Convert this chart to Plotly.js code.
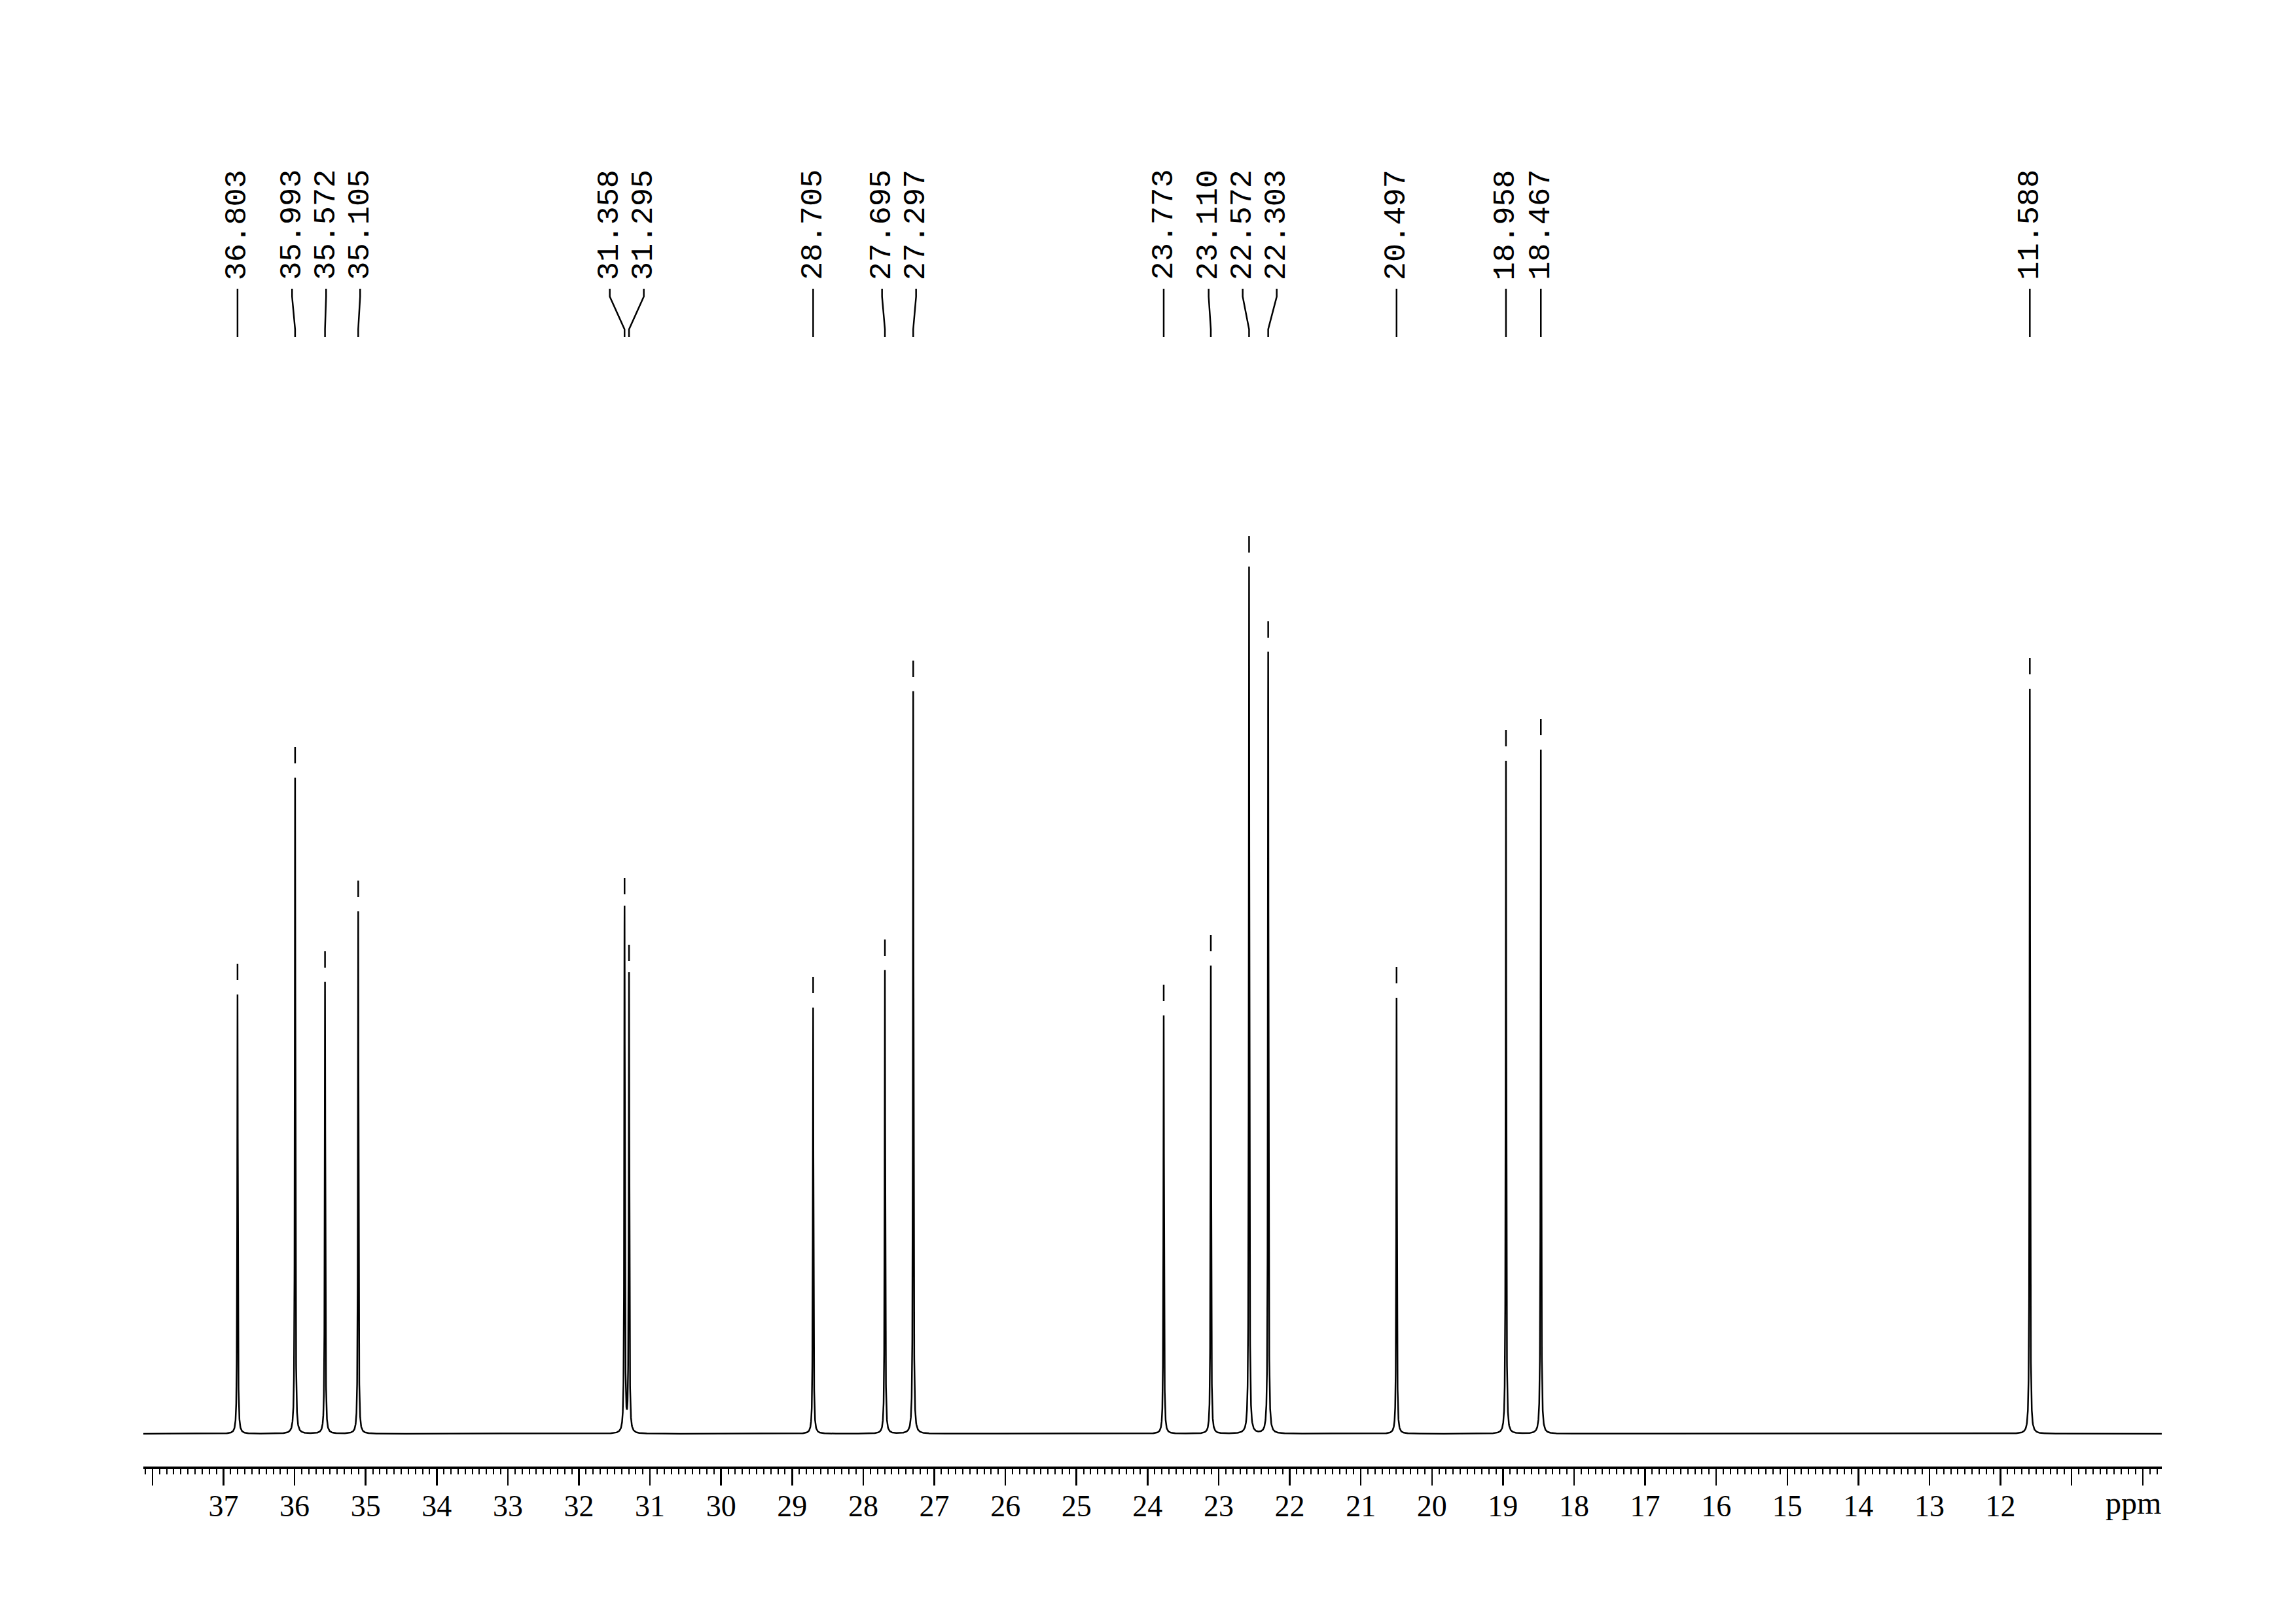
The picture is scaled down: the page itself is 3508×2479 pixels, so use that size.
<!DOCTYPE html>
<html>
<head>
<meta charset="utf-8">
<script src="https://cdn.plot.ly/plotly-3.0.1.min.js"></script>
<style>html,body{margin:0;padding:0;background:#fff;}</style>
</head>
<body>
<div id="chart" style="width:3508px;height:2479px;"></div>
<script>
// ---- data (13C spectrum, ppm) ----
const peakPositions = [36.803, 35.993, 35.572, 35.105, 31.358, 31.295, 28.705, 27.695, 27.297,
                       23.773, 23.110, 22.572, 22.303, 20.497, 18.958, 18.467, 11.588];
const peakHeights   = [671, 1002, 690, 798, 802, 700, 651, 708, 1134,
                       639, 715, 1324, 1194, 666, 1028, 1045, 1138];
const tickValues = [38, 37, 36, 35, 34, 33, 32, 31, 30, 29, 28, 27, 26, 25, 24, 23, 22, 21, 20, 19, 18, 17, 16, 15, 14, 13, 12, 11, 10];
const tickLabels = ['', '37', '36', '35', '34', '33', '32', '31', '30', '29', '28', '27', '26', '25', '24', '23', '22', '21', '20', '19', '18', '17', '16', '15', '14', '13', '12', '', ''];
const axisUnit = 'ppm';

// ---- layout geometry ----
const W = 3508, H = 2479;
const mL = 219, mR = 205, mT = 0, mB = 239;
const xRange = [38.128, 9.731];
const yRange = [-50, 2190];
const plotW = W - mL - mR;
const pxPerPpm = plotW / (xRange[0] - xRange[1]);
const yTopPx = 2190;                   // y data value that sits at the page top
const pxToY = px => yTopPx - px;       // 1 y unit == 1 pixel

// ---- spectrum line built from the peak list (Lorentzian lines) ----
const gamma = 0.005;
let xs = [];
for (let v = xRange[0]; v >= xRange[1]; v -= 0.004) xs.push(v);
peakPositions.forEach(p => { for (let k = -80; k <= 80; k++) xs.push(p + k * 0.0005); });
xs.sort((a, b) => b - a);
const ys = xs.map(x => peakPositions.reduce((s, p, i) =>
  s + peakHeights[i] * gamma * gamma / ((x - p) * (x - p) + gamma * gamma), 0));

// ---- small marks above each peak ----
const markX = [], markY = [];
peakPositions.forEach((p, i) => {
  markX.push(p, p, null);
  markY.push(peakHeights[i] + 22, peakHeights[i] + 47, null);
});

// ---- label spreading (min spacing in ppm) ----
function spreadLabels(pos, minSep) {
  let clusters = pos.map((p, i) => ({ idx: [i], center: p }));
  let changed = true;
  while (changed) {
    changed = false;
    for (let c = 0; c < clusters.length - 1; c++) {
      const a = clusters[c], b = clusters[c + 1];
      const aLow = a.center - (a.idx.length - 1) / 2 * minSep;
      const bHigh = b.center + (b.idx.length - 1) / 2 * minSep;
      if (aLow - bHigh < minSep - 1e-9) {
        const idx = a.idx.concat(b.idx);
        const center = idx.reduce((s, i) => s + pos[i], 0) / idx.length;
        clusters.splice(c, 2, { idx, center });
        changed = true;
        break;
      }
    }
  }
  const out = [];
  clusters.forEach(cl => cl.idx.forEach((i, k) => {
    out[i] = cl.center + ((cl.idx.length - 1) / 2 - k) * minSep;
  }));
  return out;
}
const labelX = spreadLabels(peakPositions, 52 / pxPerPpm);

const connX = [], connY = [];
peakPositions.forEach((p, i) => {
  connX.push(labelX[i], labelX[i], p, p, null);
  connY.push(pxToY(441), pxToY(453), pxToY(503), pxToY(515), null);
});

const annotations = peakPositions.map((p, i) => ({
  x: labelX[i], xref: 'x',
  y: pxToY(429), yref: 'y',
  xanchor: 'center', yanchor: 'bottom',
  text: p.toFixed(3), textangle: -90, showarrow: false,
  font: { family: 'Liberation Mono, DejaVu Sans Mono, monospace', size: 47, color: '#000' },
  borderpad: 0
}));
annotations.push({
  x: 1, xref: 'paper', xanchor: 'right',
  y: -(2268 - (H - mB)) / (H - mB - mT), yref: 'paper', yanchor: 'top',
  text: axisUnit, showarrow: false,
  font: { family: 'Liberation Serif, serif', size: 48, color: '#000' },
  borderpad: 0
});

const traces = [
  { x: xs, y: ys, type: 'scatter', mode: 'lines', line: { color: '#000', width: 2.5 }, hoverinfo: 'skip', cliponaxis: false },
  { x: markX, y: markY, type: 'scatter', mode: 'lines', line: { color: '#000', width: 2.5 }, hoverinfo: 'skip', cliponaxis: false },
  { x: connX, y: connY, type: 'scatter', mode: 'lines', line: { color: '#000', width: 2.5 }, hoverinfo: 'skip', cliponaxis: false }
];

const layout = {
  width: W, height: H,
  margin: { l: mL, r: mR, t: mT, b: mB, pad: 0 },
  paper_bgcolor: '#fff', plot_bgcolor: '#fff',
  showlegend: false,
  xaxis: {
    range: xRange, autorange: false,
    showgrid: false, zeroline: false,
    showline: true, linecolor: '#000', linewidth: 3.5,
    ticks: 'outside', ticklen: 25, tickwidth: 2.5, tickcolor: '#000',
    tickmode: 'array', tickvals: tickValues, ticktext: tickLabels,
    ticklabelstandoff: -8,
    tickfont: { family: 'Liberation Serif, serif', size: 46, color: '#000' },
    minor: { tickmode: 'linear', tick0: 0, dtick: 0.1, ticks: 'outside', ticklen: 8, tickwidth: 2, tickcolor: '#000', showgrid: false }
  },
  yaxis: { range: yRange, autorange: false, visible: false, showgrid: false, zeroline: false },
  annotations: annotations
};

Plotly.newPlot('chart', traces, layout, { staticPlot: true, displayModeBar: false });
</script>
</body>
</html>
